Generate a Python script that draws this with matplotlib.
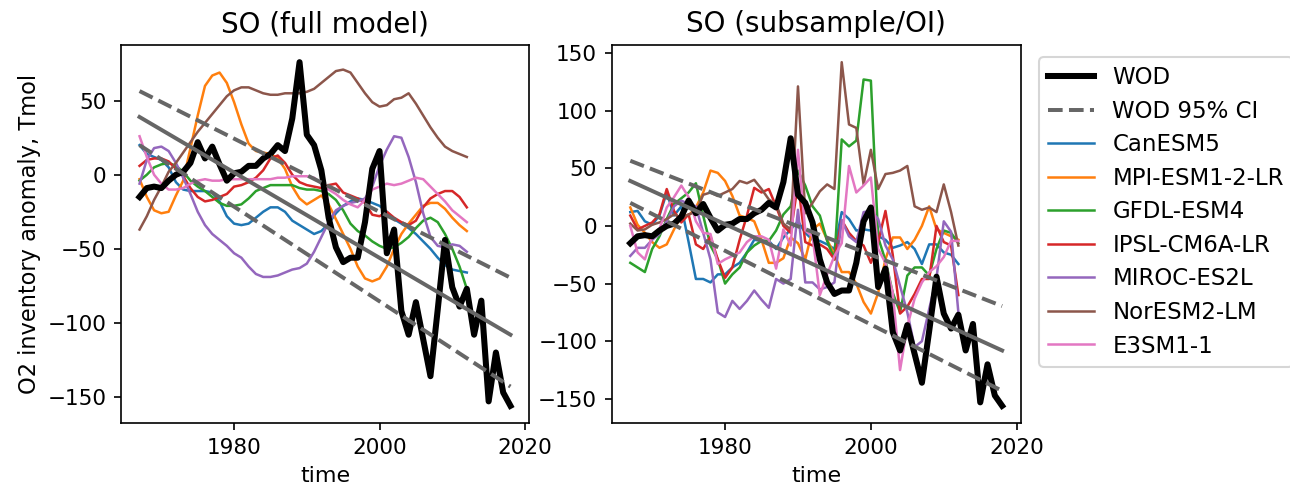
import matplotlib
matplotlib.use("Agg")
import matplotlib.pyplot as plt

# ---------------- data ----------------
wod_years = list(range(1967, 2019))
wod = [-15, -9, -8, -9, -4, 0, 2, 8, 22, 11,
       19, 7, -4, 1, 2, 6, 6, 11, 14, 20,
       16, 38, 76, 27, 20, 3, -29, -49, -59, -56,
       -56, -32, 4, 16, -53, -37, -92, -108, -86, -111,
       -136, -91, -44, -76, -89, -77, -108, -85, -153, -120,
       -147, -156]

trend_years = [1967, 2018]
trend_fit = [39, -108]
ci_upper = [56.5, -69.5]
ci_lower = [20, -143]

model_years = list(range(1967, 2013))
model_names = ["CanESM5", "MPI-ESM1-2-LR", "GFDL-ESM4", "IPSL-CM6A-LR",
               "MIROC-ES2L", "NorESM2-LM", "E3SM1-1"]
model_colors = ["#1f77b4", "#ff7f0e", "#2ca02c", "#d62728",
                "#9467bd", "#8c564b", "#e377c2"]

# full model (smooth)
can_full = [20, 14, 12, 10, 5, -5, -10, -11, -11, -11,
            -12, -18, -28, -33, -34, -33, -29, -25, -22, -22,
            -25, -31, -34, -37, -40, -38, -33, -26, -21, -18,
            -16, -17, -19, -21, -25, -30, -33, -36, -40, -45,
            -50, -56, -61, -64, -65, -66]
mpi_full = [-3, -15, -24, -26, -25, -14, -4, 18, 40, 60,
            67, 69, 62, 49, 34, 21, 16, 15, 14, 11,
            4, -8, -16, -20, -17, -14, -20, -30, -40, -50,
            -62, -70, -72, -70, -62, -50, -40, -33, -27, -21,
            -19, -19, -23, -29, -34, -38]
gfdl_full = [-4, 0, 5, 7, 8, 6, 2, -4, -8, -11,
             -15, -19, -21, -21, -20, -16, -11, -9, -7, -7,
             -7, -7, -9, -10, -10, -11, -13, -17, -24, -33,
             -38, -41, -45, -48, -50, -49, -46, -42, -36, -31,
             -29, -32, -40, -50, -62, -77]
ipsl_full = [6, 10, 11, 11, 9, 4, -1, -9, -15, -18,
             -17, -15, -13, -8, -7, -5, -2, 3, 11, 13,
             8, 0, -5, -7, -8, -9, -7, -6, -12, -14,
             -16, -19, -27, -28, -25, -29, -32, -34, -31, -22,
             -16, -13, -11, -11, -15, -22]
miroc_full = [-6, 10, 18, 19, 16, 8, -2, -13, -25, -34,
              -40, -44, -48, -53, -56, -62, -67, -69, -69, -68,
              -66, -64, -63, -60, -52, -42, -32, -24, -21, -19,
              -18, -16, -8, 6, 17, 26, 25, 12, -5, -26,
              -42, -48, -49, -47, -48, -52]
nor_full = [-37, -28, -17, -8, 2, 8, 15, 22, 29, 35,
            41, 47, 53, 57, 59, 59, 57, 55, 54, 54,
            55, 55, 55, 56, 58, 62, 66, 70, 71, 69,
            62, 55, 49, 46, 47, 51, 52, 55, 48, 40,
            32, 25, 19, 16, 14, 12]
e3sm_full = [26, 12, 0, -6, -10, -10, -9, -6, -4, -3,
             -4, -4, -3, -3, -3, -3, -3, -3, -3, -2,
             -2, -1, -1, -1, -2, -6, -10, -13, -17, -20,
             -22, -17, -10, -8, -6, -7, -6, -4, -2, -3,
             -8, -13, -18, -24, -28, -32]

# subsample / OI (noisy)
can_sub = [12, 13, 4, 1, 9, 29, 9, 17, -14, -46,
           -46, -49, -42, -42, -36, -32, -23, -12, -13, -13,
           -20, -10, -3, 4, -6, -12, -13, -16, -20, 12,
           6, -4, -3, -4, -9, -12, -19, -17, -14, -20,
           -33, -16, -16, -23, -25, -33]
mpi_sub = [16, 1, -6, -14, -19, -16, -3, 9, 9, 16,
           29, 48, 46, 39, 26, 9, 7, 4, -12, -32,
           -32, -28, -10, -15, -29, -3, 2, -12, -25, -40,
           -40, -50, -66, -76, -58, -29, -10, -10, -20, -12,
           0, 17, -3, -6, -9, -12]
gfdl_sub = [-32, -36, -40, -20, -9, 6, 19, 24, 29, 37,
            9, -17, -29, -50, -42, -36, -23, -17, -13, -13,
            -4, 10, 17, 48, 35, 17, 9, -13, -29, 75,
            69, 74, 127, 126, -10, -30, -58, -75, -43, -36,
            -36, -43, -20, -4, -6, -15]
ipsl_sub = [9, -3, 0, 3, 10, 32, 13, 3, 10, -16,
            -20, -9, -29, -45, -36, -12, 9, 33, 29, 32,
            17, 0, -6, 37, -14, -17, -16, -20, -29, 5,
            -6, -13, -17, -32, -14, 13, -25, -76, -70, -59,
            -46, -46, 0, -14, -17, -60]
miroc_sub = [-26, -19, -19, -12, -7, 4, 17, 22, 19, 17,
             -6, -29, -75, -79, -65, -72, -65, -56, -64, -71,
             -46, -50, -46, 14, -49, -49, -55, -53, -49, 5,
             -9, -14, 12, 13, 6, -17, -29, -52, -75, -105,
             -100, -72, -45, 4, -5, -75]
nor_sub = [2, -4, -3, 1, 3, 6, 10, 7, 10, 12,
           27, 29, 26, 29, 32, 39, 37, 40, 32, 23,
           19, 2, -3, 121, 11, 20, 30, 36, 32, 142,
           88, 85, 36, 66, 32, 45, 46, 48, 52, 17,
           14, 16, 12, 36, 12, -17]
e3sm_sub = [0, -23, -29, -9, -3, 16, 25, 35, 25, 4,
            -6, -7, -33, -29, -26, -23, -14, -9, -9, -12,
            -37, -3, -17, 66, -4, -9, -60, -42, -26, -15,
            52, 29, 35, 42, -20, -32, -58, -125, -87, -63,
            -49, -40, -35, -27, -13, -13]

full_models = [can_full, mpi_full, gfdl_full, ipsl_full, miroc_full, nor_full, e3sm_full]
sub_models = [can_sub, mpi_sub, gfdl_sub, ipsl_sub, miroc_sub, nor_sub, e3sm_sub]

titles = ["SO (full model)", "SO (subsample/OI)"]
ylabel = "O2 inventory anomaly, Tmol"
xlabel = "time"

# ---------------- figure ----------------
W, H = 1290, 491
dpi = 150
fig = plt.figure(figsize=(W / dpi, H / dpi), dpi=dpi)

ax_l = fig.add_axes([121 / W, 1 - 423 / H, 408 / W, 378 / H])
ax_r = fig.add_axes([611.7 / W, 1 - 423 / H, 409 / W, 378 / H])

handles = []
for ax, models, title in [(ax_l, full_models, titles[0]), (ax_r, sub_models, titles[1])]:
    h_wod, = ax.plot(wod_years, wod, color="black", lw=2.9, label="WOD", zorder=3)
    ax.plot(trend_years, trend_fit, color="0.4", lw=1.9, zorder=4)
    h_ci, = ax.plot(trend_years, ci_upper, color="0.4", lw=1.9, ls="--",
                    label="WOD 95% CI", zorder=4)
    ax.plot(trend_years, ci_lower, color="0.4", lw=1.9, ls="--", zorder=4)
    hs = [h_wod, h_ci]
    for vals, name, col in zip(models, model_names, model_colors):
        h, = ax.plot(model_years, vals, color=col, lw=1.2, label=name, zorder=2)
        hs.append(h)
    handles = hs
    ax.set_title(title, fontsize=13.3, pad=6)
    ax.set_xlabel(xlabel, fontsize=10.6)
    ax.set_xticks([1980, 2000, 2020])
    ax.tick_params(labelsize=10.3)

ax_l.set_ylabel(ylabel, fontsize=10.8, labelpad=3)

fig.legend(handles, [h.get_label() for h in handles], loc="upper left",
           bbox_to_anchor=(1039 / W, 1 - 57 / H), borderaxespad=0,
           fontsize=11, labelspacing=0.46)

fig.savefig("out.png", dpi=dpi)
